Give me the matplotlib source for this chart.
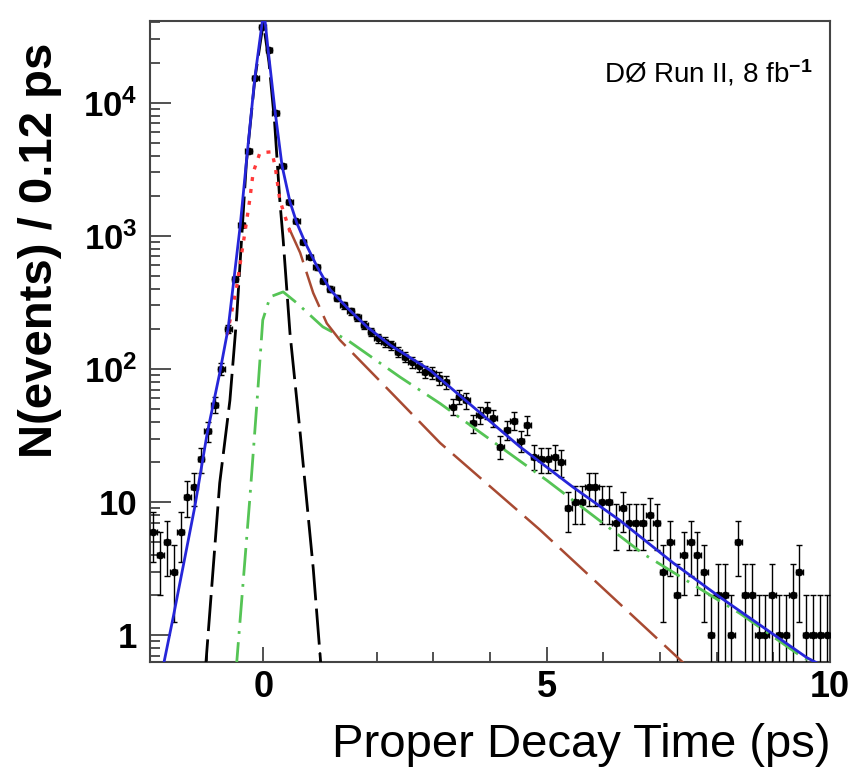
import numpy as np
import matplotlib
matplotlib.use('Agg')
import matplotlib.pyplot as plt
from matplotlib.ticker import FixedLocator, MultipleLocator, LogLocator, NullFormatter

plt.rcParams['font.family'] = ['Liberation Sans', 'DejaVu Sans']
plt.rcParams['font.weight'] = 'bold'
plt.rcParams['mathtext.fontset'] = 'custom'
plt.rcParams['mathtext.rm'] = 'Liberation Sans'
plt.rcParams['mathtext.bf'] = 'Liberation Sans:bold'
plt.rcParams['mathtext.default'] = 'bf'

# histogram: 100 bins of 0.12 ps from -2 to 10
bin_lo, bin_hi, bin_w = -2.0, 10.0, 0.12
counts = [6, 4, 5, 3, 6, 11, 13, 21, 34, 54,
          100, 200, 470, 1200, 4300, 15400, 37000, 25000, 8400, 3360,
          1800, 1280, 900, 690, 580, 460, 400, 340, 300, 270,
          245, 215, 190, 170, 160, 150, 135, 123, 113, 105,
          95, 93, 85, 80, 52, 62, 58, 39, 45, 49,
          43, 26, 35, 41, 29, 38, 22, 21, 21, 22,
          20, 9, 10, 10, 13, 13, 10, 10, 7, 9,
          7, 7, 7, 8, 7, 3, 5, 2, 4, 5,
          4, 3, 1, 2, 2, 1, 5, 2, 2, 1,
          1, 2, 1, 1, 2, 3, 1, 1, 1, 1]

# fit components
total_t = [-1.80, -1.59, -1.21, -0.99, -0.77, -0.62, -0.41, -0.29, -0.15, -0.02, 0.02,
           0.08, 0.21, 0.33, 0.47, 0.59, 0.74, 0.95, 1.18, 1.48, 1.83, 2.24,
           2.94, 3.70, 4.53, 5.46, 6.29, 7.23, 8.06, 8.82, 9.59, 10.0]
total_n = [0.5, 1.37, 9.2, 33, 93, 203, 1170, 3930, 15400, 40000, 45000,
           25900, 8400, 3360, 1800, 1250, 885, 585, 393, 288, 207, 151,
           98, 52, 26, 13, 7.3, 3.5, 1.93, 1.15, 0.68, 0.55]

prompt_t = [-1.03, -0.77, -0.59, -0.47, -0.30, -0.15, 0.0, 0.10, 0.20, 0.29, 0.35, 0.47, 0.65, 0.88, 1.03]
prompt_n = [0.5, 13.9, 58, 246, 3500, 15000, 40000, 20000, 7000, 1860, 933, 186, 33, 3.2, 0.5]

reso_t = [-0.64, -0.47, -0.38, -0.31, -0.24, -0.18, -0.06, 0.15, 0.21, 0.29, 0.42, 0.51]
reso_n = [180, 414, 745, 1170, 1860, 2980, 4200, 4270, 3300, 1860, 1250, 950]

short_t = [0.45, 0.65, 0.88, 1.12, 1.35, 2.0, 3.12, 4.88, 7.45]
short_n = [1150, 745, 372, 220, 165, 86, 27.8, 6.2, 0.6]

long_t = [-0.48, -0.24, -0.11, -0.01, 0.12, 0.35, 0.59, 1.05, 1.48, 2.41, 3.12, 5.0, 6.70, 8.41, 9.42, 10.0]
long_n = [0.55, 10.4, 58, 233, 348, 379, 313, 207, 165, 87, 55, 14.6, 4.1, 1.46, 0.73, 0.52]

fig = plt.figure(figsize=(8.58, 7.77), dpi=100)
ax = fig.add_axes([150/858, 1-662/777, 680/858, 641/777])

# data points
n = np.array(counts, dtype=float)
centers = bin_lo + bin_w/2 + bin_w*np.arange(len(n))
err = np.sqrt(n)
err_lo = np.minimum(err, n - 1e-3)
ax.errorbar(centers, n, yerr=[err_lo, err], xerr=bin_w/2, fmt='o', color='black',
            ms=4.5, lw=1.0, capsize=2.5, capthick=1.0, zorder=3)

# fit curves
ax.plot(prompt_t, prompt_n, color='black', lw=2.0, dashes=(13, 3), zorder=4)
ax.plot(long_t, long_n, color='#55c455', lw=2.0, dashes=(10, 3, 1, 3), zorder=4)
ax.plot(short_t, short_n, color='#a84a32', lw=1.8, dashes=(15, 4), zorder=4)
ax.plot(reso_t, reso_n, color='#ff3a3a', lw=2.4, dashes=(1.2, 2.4), zorder=4)
ax.plot(total_t, total_n, color='#2626d9', lw=2.0, zorder=5)

ax.set_yscale('log')
ax.set_xlim(bin_lo, bin_hi)
ax.set_ylim(0.63, 4.1e4)

ax.xaxis.set_major_locator(FixedLocator([0, 5, 10]))
ax.xaxis.set_minor_locator(MultipleLocator(1))
ax.set_xticklabels(['0', '5', '10'])
ax.yaxis.set_major_locator(FixedLocator([1, 10, 100, 1000, 10000]))
ax.yaxis.set_minor_locator(LogLocator(base=10, subs=np.arange(2, 10)))
ax.yaxis.set_minor_formatter(NullFormatter())
ax.set_yticklabels(['1', '10', '10$^{2}$', '10$^{3}$', '10$^{4}$'])

ax.tick_params(axis='both', which='both', direction='in', top=False, right=False,
               color='#333333', width=1.2)
ax.tick_params(axis='x', which='major', length=11, labelsize=26, pad=6)
ax.tick_params(axis='x', which='minor', length=7)
ax.tick_params(axis='y', which='major', length=15, labelsize=25, pad=9)
ax.tick_params(axis='y', which='minor', length=7.5)
for s in ax.spines.values():
    s.set_color('#444444')
    s.set_linewidth(1.5)

ax.text(0.974, 0.919, 'DØ Run II, 8 fb$^{\\mathrm{-1}}$', transform=ax.transAxes,
        ha='right', va='center', fontsize=20, fontweight='normal')

fig.text(40/858, 1-250/777, 'N(events) / 0.12 ps', rotation=90,
         ha='center', va='center', fontsize=34)
fig.text(830/858, 1-745/777, 'Proper Decay Time (ps)',
         ha='right', va='center', fontsize=34, fontweight='normal')

fig.savefig('out.png', dpi=100)
